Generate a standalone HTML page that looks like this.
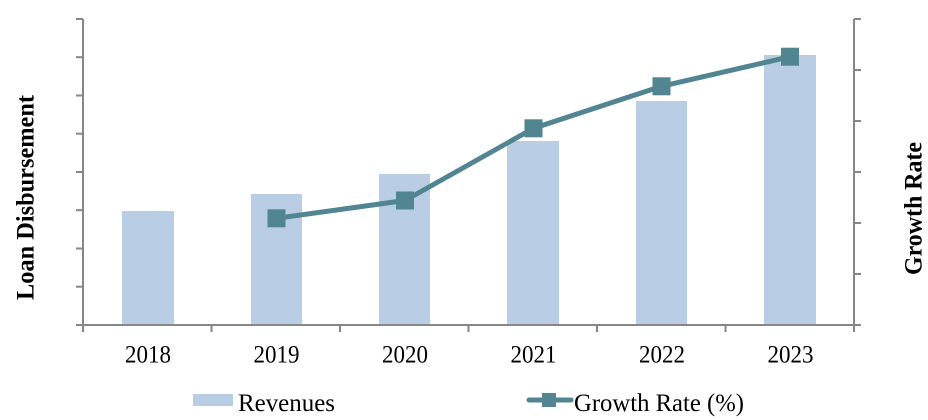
<!DOCTYPE html>
<html>
<head>
<meta charset="utf-8">
<style>
  html, body { margin:0; padding:0; background:#fff; }
  svg { display:block; }
  text { font-family: "Liberation Serif", "DejaVu Serif", serif; fill:#000; }
</style>
</head>
<body>
<svg width="928" height="420" viewBox="0 0 928 420" xmlns="http://www.w3.org/2000/svg">
  <!-- Bars -->
  <g fill="#b9cde4">
    <rect x="122" y="211" width="52" height="114"/>
    <rect x="251" y="194" width="51" height="131"/>
    <rect x="379" y="174" width="51" height="151"/>
    <rect x="507" y="141" width="52" height="184"/>
    <rect x="636" y="101" width="51" height="224"/>
    <rect x="764" y="55" width="52" height="270"/>
  </g>

  <!-- Axes -->
  <g stroke="#878787" stroke-width="2" fill="none">
    <line x1="83" y1="19" x2="83" y2="332"/>
    <line x1="854" y1="19" x2="854" y2="332"/>
    <line x1="83" y1="325" x2="854" y2="325"/>
    <!-- left ticks -->
    <line x1="76" y1="19" x2="83" y2="19"/>
    <line x1="76" y1="57.2" x2="83" y2="57.2"/>
    <line x1="76" y1="95.5" x2="83" y2="95.5"/>
    <line x1="76" y1="133.7" x2="83" y2="133.7"/>
    <line x1="76" y1="172" x2="83" y2="172"/>
    <line x1="76" y1="210.2" x2="83" y2="210.2"/>
    <line x1="76" y1="248.5" x2="83" y2="248.5"/>
    <line x1="76" y1="286.7" x2="83" y2="286.7"/>
    <line x1="76" y1="325" x2="83" y2="325"/>
    <!-- right ticks -->
    <line x1="854" y1="19" x2="861" y2="19"/>
    <line x1="854" y1="70" x2="861" y2="70"/>
    <line x1="854" y1="121" x2="861" y2="121"/>
    <line x1="854" y1="172" x2="861" y2="172"/>
    <line x1="854" y1="223" x2="861" y2="223"/>
    <line x1="854" y1="274" x2="861" y2="274"/>
    <line x1="854" y1="325" x2="861" y2="325"/>
    <!-- category ticks -->
    <line x1="211.5" y1="325" x2="211.5" y2="332"/>
    <line x1="340" y1="325" x2="340" y2="332"/>
    <line x1="468.5" y1="325" x2="468.5" y2="332"/>
    <line x1="597" y1="325" x2="597" y2="332"/>
    <line x1="725.5" y1="325" x2="725.5" y2="332"/>
  </g>

  <!-- Growth line -->
  <polyline points="276.5,218.3 405,200.5 533.5,128.3 661.5,86.3 790,56.7"
            fill="none" stroke="#518592" stroke-width="5" stroke-linejoin="round"/>
  <g fill="#518592">
    <rect x="267.5" y="209.3" width="18" height="18"/>
    <rect x="396" y="191.5" width="18" height="18"/>
    <rect x="524.5" y="119.3" width="18" height="18"/>
    <rect x="652.5" y="77.3" width="18" height="18"/>
    <rect x="781" y="47.7" width="18" height="18"/>
  </g>

  <!-- X labels -->
  <g font-size="25">
    <text x="125" y="362.5" textLength="46" lengthAdjust="spacingAndGlyphs">2018</text>
    <text x="253.5" y="362.5" textLength="46" lengthAdjust="spacingAndGlyphs">2019</text>
    <text x="382" y="362.5" textLength="46" lengthAdjust="spacingAndGlyphs">2020</text>
    <text x="510.5" y="362.5" textLength="46" lengthAdjust="spacingAndGlyphs">2021</text>
    <text x="639" y="362.5" textLength="46" lengthAdjust="spacingAndGlyphs">2022</text>
    <text x="767.5" y="362.5" textLength="46" lengthAdjust="spacingAndGlyphs">2023</text>
  </g>

  <!-- Axis titles -->
  <text transform="translate(33.5,300) rotate(-90)" font-size="25" font-weight="bold"
        textLength="205" lengthAdjust="spacingAndGlyphs">Loan Disbursement</text>
  <text transform="translate(921.5,275) rotate(-90)" font-size="25" font-weight="bold"
        textLength="133" lengthAdjust="spacingAndGlyphs">Growth Rate</text>

  <!-- Legend -->
  <rect x="193" y="394" width="40" height="12" fill="#b9cde4"/>
  <text x="238" y="411" font-size="25" textLength="97" lengthAdjust="spacingAndGlyphs">Revenues</text>

  <line x1="529" y1="400" x2="571" y2="400" stroke="#518592" stroke-width="5" stroke-linecap="round"/>
  <rect x="542" y="393" width="14" height="14" fill="#518592"/>
  <text x="574" y="411" font-size="25" textLength="170" lengthAdjust="spacingAndGlyphs">Growth Rate (%)</text>
</svg>
</body>
</html>
